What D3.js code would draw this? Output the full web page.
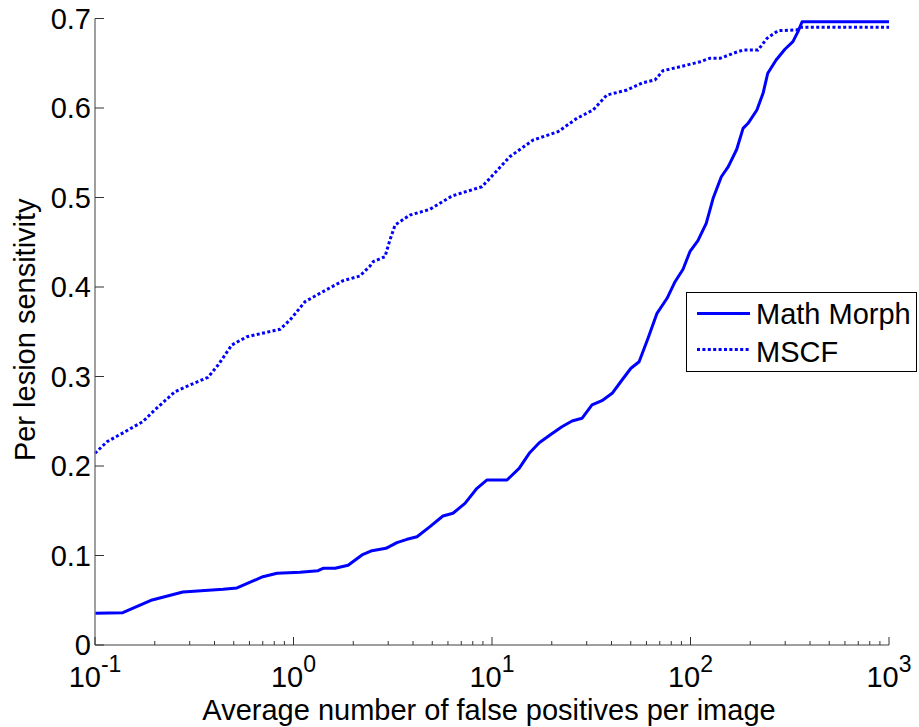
<!DOCTYPE html>
<html>
<head>
<meta charset="utf-8">
<script src="https://cdn.jsdelivr.net/npm/d3@7"></script>
<style>
  html, body { margin: 0; padding: 0; background: #fff; }
  svg { display: block; font-family: "Liberation Sans", Arial, Helvetica, sans-serif; }
</style>
</head>
<body>
<svg id="chart" width="919" height="727"></svg>
<script>
// FROC curves: average false positives per image vs per-lesion sensitivity
const fpMathMorph = [0.1, 0.138, 0.194, 0.277, 0.442, 0.519, 0.701, 0.826, 1.079, 1.329, 1.409, 1.619, 1.884,
  2.213, 2.485, 2.923, 3.319, 3.73, 4.19, 4.87, 5.66, 6.36, 7.31, 8.40, 9.44, 11.9, 13.7, 15.4, 17.3, 19.6,
  22.5, 25.3, 28.4, 31.9, 35.8, 40.3, 45.2, 50.1, 55.1, 61.1, 67.8, 76.2, 83.6, 91.7, 99.3, 109, 120, 130,
  143, 155, 171, 184, 195, 216, 232, 245, 270, 299, 328, 348, 365, 1000];
const sensMathMorph = [0.0354, 0.0361, 0.0503, 0.0592, 0.0622, 0.0637, 0.0763, 0.0801, 0.0812, 0.0830, 0.0857,
  0.0857, 0.0891, 0.1006, 0.1054, 0.1080, 0.1143, 0.1181, 0.1210, 0.1322, 0.1441, 0.1472, 0.1583, 0.1751,
  0.1844, 0.1844, 0.1974, 0.2142, 0.2260, 0.2346, 0.2439, 0.2503, 0.2533, 0.2682, 0.2730, 0.2812, 0.2961,
  0.3092, 0.3165, 0.3427, 0.3706, 0.3874, 0.4059, 0.4198, 0.4394, 0.4517, 0.4712, 0.4991, 0.5232, 0.5344,
  0.5539, 0.5773, 0.5829, 0.5978, 0.6164, 0.6388, 0.6536, 0.6656, 0.6741, 0.6853, 0.6964, 0.6964];

const fpMSCF = [0.1, 0.115, 0.137, 0.174, 0.200, 0.253, 0.301, 0.371, 0.417, 0.489, 0.583, 0.855, 0.960,
  1.143, 1.361, 1.776, 2.16, 2.43, 2.52, 2.89, 3.06, 3.25, 3.86, 4.87, 6.28, 8.91, 10.1, 12.3, 16.1, 21.5,
  26.8, 32.3, 37.9, 47.9, 57.6, 66.2, 72.7, 88.5, 112, 125, 141, 164, 184, 219, 243, 276, 344, 356, 1000];
const sensMSCF = [0.2142, 0.2272, 0.2365, 0.2495, 0.2626, 0.2830, 0.2905, 0.2991, 0.3128, 0.3352, 0.3445,
  0.3527, 0.3631, 0.3836, 0.3930, 0.4070, 0.4123, 0.4235, 0.4283, 0.4339, 0.4525, 0.4693, 0.4804, 0.4868,
  0.5017, 0.5121, 0.5251, 0.5456, 0.5642, 0.5735, 0.5885, 0.5978, 0.6145, 0.6201, 0.6283, 0.6313, 0.6417,
  0.6461, 0.6517, 0.6555, 0.6555, 0.6611, 0.6648, 0.6648, 0.6779, 0.6864, 0.6872, 0.6902, 0.6902];

const seriesNames = ["Math Morph", "MSCF"];
const yTicks = [0, 0.1, 0.2, 0.3, 0.4, 0.5, 0.6, 0.7];
const xDecades = [-1, 0, 1, 2, 3];
const xLabel = "Average number of false positives per image";
const yLabel = "Per lesion sensitivity";

const svg = d3.select("#chart");
const plot = { left: 95, right: 889, top: 18.5, bottom: 645 };

const x = d3.scaleLog().domain([0.1, 1000]).range([plot.left, plot.right]);
const y = d3.scaleLinear().domain([0, 0.7]).range([plot.bottom, plot.top]);

const blue = "#0000ff";
const axisGray = "#7f7f7f";
const tickColor = "#333";
const fontSize = 29;

// Curves
const line = d3.line().x(d => x(d[0])).y(d => y(d[1]));
svg.append("path")
  .datum(d3.zip(fpMSCF, sensMSCF))
  .attr("d", line).attr("fill", "none")
  .attr("stroke", blue).attr("stroke-width", 3)
  .attr("stroke-dasharray", "3,2.4");
svg.append("path")
  .datum(d3.zip(fpMathMorph, sensMathMorph))
  .attr("d", line).attr("fill", "none")
  .attr("stroke", blue).attr("stroke-width", 3)
  .attr("stroke-linejoin", "round");

// Axis lines (left and bottom only)
svg.append("line")
  .attr("x1", plot.left).attr("x2", plot.left)
  .attr("y1", plot.top).attr("y2", plot.bottom)
  .attr("stroke", axisGray).attr("stroke-width", 1.5);
svg.append("line")
  .attr("x1", plot.left).attr("x2", plot.right)
  .attr("y1", plot.bottom).attr("y2", plot.bottom)
  .attr("stroke", axisGray).attr("stroke-width", 1.5);

// Y ticks and labels
const yt = svg.append("g");
yTicks.forEach(v => {
  yt.append("line")
    .attr("x1", plot.left).attr("x2", plot.left + 9)
    .attr("y1", y(v)).attr("y2", y(v))
    .attr("stroke", tickColor).attr("stroke-width", 1);
  yt.append("text")
    .attr("x", plot.left - 4).attr("y", y(v))
    .attr("dy", "0.36em")
    .attr("text-anchor", "end")
    .attr("font-size", fontSize).attr("fill", "#000")
    .text(v === 0 ? "0" : d3.format(".1f")(v));
});

// X ticks: major at decades, minor at 2..9 within each decade
const xt = svg.append("g");
xDecades.forEach((e, i) => {
  const base = Math.pow(10, e);
  xt.append("line")
    .attr("x1", x(base)).attr("x2", x(base))
    .attr("y1", plot.bottom).attr("y2", plot.bottom - 8)
    .attr("stroke", tickColor).attr("stroke-width", 1);
  if (i < xDecades.length - 1) {
    d3.range(2, 10).forEach(m => {
      xt.append("line")
        .attr("x1", x(base * m)).attr("x2", x(base * m))
        .attr("y1", plot.bottom).attr("y2", plot.bottom - 4)
        .attr("stroke", tickColor).attr("stroke-width", 1);
    });
  }
  const t = xt.append("text")
    .attr("x", x(base)).attr("y", 687)
    .attr("text-anchor", "middle")
    .attr("font-size", fontSize).attr("fill", "#000");
  t.append("tspan").text("10");
  t.append("tspan").attr("dy", -15).attr("font-size", 23).text(String(e));
});

// Axis titles
svg.append("text")
  .attr("x", (plot.left + plot.right) / 2 - 3).attr("y", 720)
  .attr("text-anchor", "middle")
  .attr("font-size", fontSize).attr("fill", "#000")
  .text(xLabel);
svg.append("text")
  .attr("transform", `translate(35,${(plot.top + plot.bottom) / 2 - 2}) rotate(-90)`)
  .attr("text-anchor", "middle")
  .attr("font-size", fontSize).attr("fill", "#000")
  .text(yLabel);

// Legend
const lg = svg.append("g");
lg.append("rect")
  .attr("x", 686.5).attr("y", 292.5).attr("width", 230).attr("height", 79)
  .attr("fill", "#fff").attr("stroke", "#000").attr("stroke-width", 1);
const legendRows = [
  { name: seriesNames[0], dash: null, ly: 313.5, ty: 324 },
  { name: seriesNames[1], dash: "3,2.4", ly: 349.5, ty: 362 }
];
legendRows.forEach(r => {
  lg.append("line")
    .attr("x1", 697).attr("x2", 750)
    .attr("y1", r.ly).attr("y2", r.ly)
    .attr("stroke", blue).attr("stroke-width", 3)
    .attr("stroke-dasharray", r.dash);
  lg.append("text")
    .attr("x", 756).attr("y", r.ty)
    .attr("font-size", fontSize).attr("fill", "#000")
    .text(r.name);
});
</script>
</body>
</html>
